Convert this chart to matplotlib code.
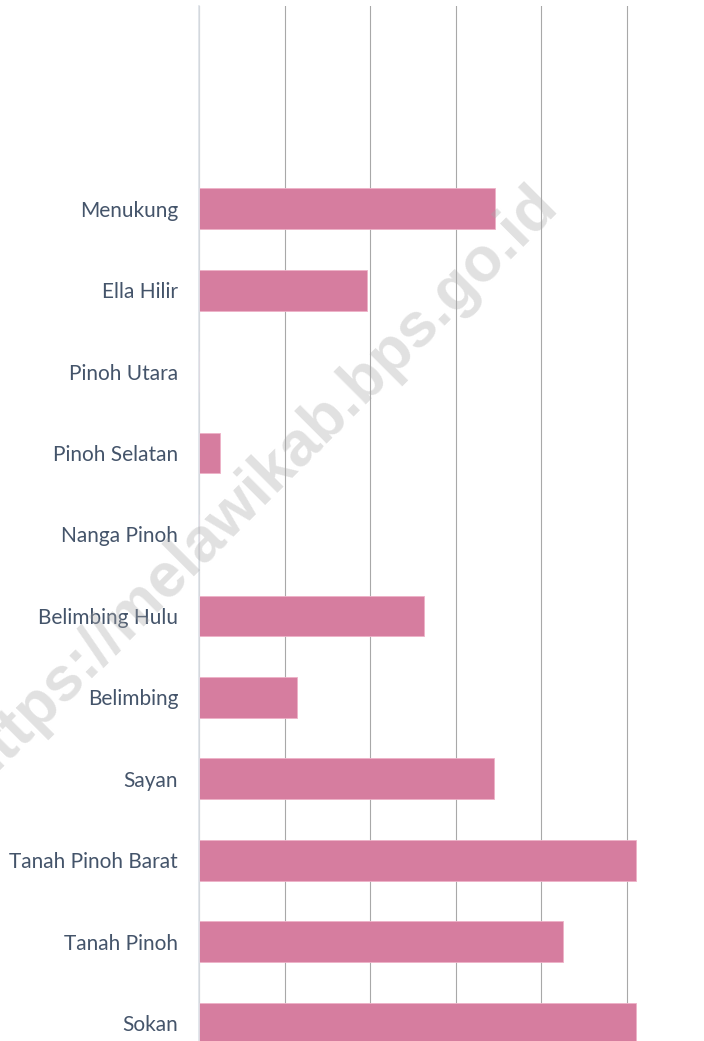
import matplotlib
matplotlib.use("Agg")
import matplotlib.pyplot as plt

# kecamatan, top to bottom as in the chart
kecamatan = ["Menukung", "Ella Hilir", "Pinoh Utara", "Pinoh Selatan", "Nanga Pinoh",
             "Belimbing Hulu", "Belimbing", "Sayan", "Tanah Pinoh Barat", "Tanah Pinoh", "Sokan"]
nilai = [69.2, 39.3, 0, 4.9, 0, 52.6, 22.9, 68.9, 102.0, 85.0, 102.0]
grid_ticks = [0, 20, 40, 60, 80, 100]

plt.rcParams['font.family'] = ['Lato', 'DejaVu Sans']

fig = plt.figure(figsize=(7.04, 10.41), dpi=100)
ax = fig.add_axes([199 / 704, 0, 1 - 199 / 704, (1041 - 6) / 1041])

# bottom category at y=0
ypos = list(range(len(kecamatan)))[::-1]
ax.barh(ypos, nilai, height=0.5, color="#d67d9f", edgecolor="#eeb2c8", linewidth=0.6, zorder=2)

ax.set_yticks(ypos)
ax.set_yticklabels(kecamatan, fontsize=15, color="#44546a")
ax.tick_params(axis='y', length=0, pad=15)
ax.set_ylim(-0.22, 12.49)

ax.set_xticks(grid_ticks)
ax.set_xticklabels([])
ax.tick_params(axis='x', length=0)
ax.set_xlim(0, 118)
ax.xaxis.grid(True, color="#a8a8a8", linewidth=0.8, zorder=0)
ax.set_axisbelow(True)

for s in ["top", "right", "bottom"]:
    ax.spines[s].set_visible(False)
ax.spines["left"].set_color("#dde2e8")
ax.spines["left"].set_linewidth(1.2)

# watermark
fig.text(258 / 704, 1 - 485 / 1041, "https://melawikab.bps.go.id", fontsize=45,
         fontweight="bold", family=["Liberation Sans", "DejaVu Sans"], color="#a8a8a8",
         alpha=0.35, rotation=45, ha="center", va="center", rotation_mode="anchor", zorder=5)

fig.savefig("out.png", dpi=100)
